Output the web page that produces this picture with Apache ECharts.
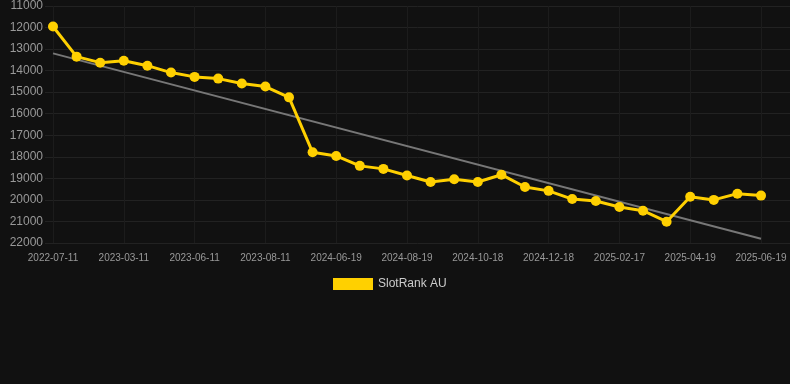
<!DOCTYPE html>
<html>
<head>
<meta charset="utf-8">
<script src="https://cdn.jsdelivr.net/npm/echarts@6/dist/echarts.min.js"></script>
<style>
html,body{margin:0;padding:0;background:#111111;}
#chart{width:790px;height:384px;}
</style>
</head>
<body>
<div id="chart"></div>
<script>
var categories = [
  '2022-07-11','2022-09-10','2022-12-10','2023-03-11','2023-04-11','2023-05-11',
  '2023-06-11','2023-07-11','2023-07-26','2023-08-11','2023-09-11','2024-05-30',
  '2024-06-19','2024-07-09','2024-07-29','2024-08-19','2024-09-08','2024-09-28',
  '2024-10-18','2024-11-07','2024-11-27','2024-12-18','2025-01-07','2025-01-27',
  '2025-02-17','2025-03-09','2025-03-29','2025-04-19','2025-05-09','2025-05-29',
  '2025-06-19'
];
var rankAU = [
  11950, 13350, 13630, 13540, 13770, 14090,
  14290, 14370, 14600, 14740, 15240, 17790,
  17960, 18420, 18560, 18870, 19170, 19040,
  19170, 18830, 19400, 19580, 19960, 20050,
  20330, 20500, 21010, 19850, 20000, 19710,
  19800
];
var trendPoints = [[0, 13200], [30, 21800]];
var yTicks = { min: 11000, max: 22000, interval: 1000 };

var chart = echarts.init(document.getElementById('chart'));
chart.setOption({
  backgroundColor: '#111111',
  animation: false,
  legend: {
    data: [{ name: 'SlotRank AU' }],
    top: 273,
    left: 328,
    icon: 'rect',
    itemWidth: 40,
    itemHeight: 12,
    itemGap: 10,
    textStyle: { color: '#cccccc', fontSize: 12, fontFamily: 'Liberation Sans, Arial, sans-serif' }
  },
  grid: [
    { left: 53, right: 29, top: 6, bottom: 141 },
    { left: 45, right: 0, top: 6, bottom: 141 }
  ],
  xAxis: [
    {
      type: 'category', gridIndex: 0, data: categories, boundaryGap: false,
      axisLine: { show: false },
      axisTick: { show: false },
      axisLabel: { interval: 2, color: '#999999', fontSize: 10, margin: 10, fontFamily: 'Liberation Sans, Arial, sans-serif' },
      splitLine: { show: true, interval: 2, lineStyle: { color: '#1c1c1c', width: 1 } }
    },
    {
      type: 'value', gridIndex: 1, show: false
    }
  ],
  yAxis: [
    {
      type: 'value', gridIndex: 0, inverse: true,
      min: yTicks.min, max: yTicks.max, interval: yTicks.interval,
      axisLine: { show: false }, axisTick: { show: false },
      axisLabel: { color: '#999999', fontSize: 12, margin: 10, fontFamily: 'Liberation Sans, Arial, sans-serif',
        formatter: function (v) { return String(v); } },
      splitLine: { show: false }
    },
    {
      type: 'value', gridIndex: 1, inverse: true,
      min: yTicks.min, max: yTicks.max, interval: yTicks.interval,
      axisLine: { show: false }, axisTick: { show: false }, axisLabel: { show: false },
      splitLine: { show: true, lineStyle: { color: '#222222', width: 1 } }
    }
  ],
  series: [
    {
      name: 'Trend', type: 'line', xAxisIndex: 0, yAxisIndex: 0,
      data: trendPoints, symbol: 'none', silent: true,
      lineStyle: { color: '#777777', width: 2 }, z: 1
    },
    {
      name: 'SlotRank AU', type: 'line', xAxisIndex: 0, yAxisIndex: 0,
      data: rankAU, symbol: 'circle', symbolSize: 10,
      itemStyle: { color: '#ffd000' },
      lineStyle: { color: '#ffd000', width: 3 }, z: 3
    }
  ]
});
</script>
</body>
</html>
